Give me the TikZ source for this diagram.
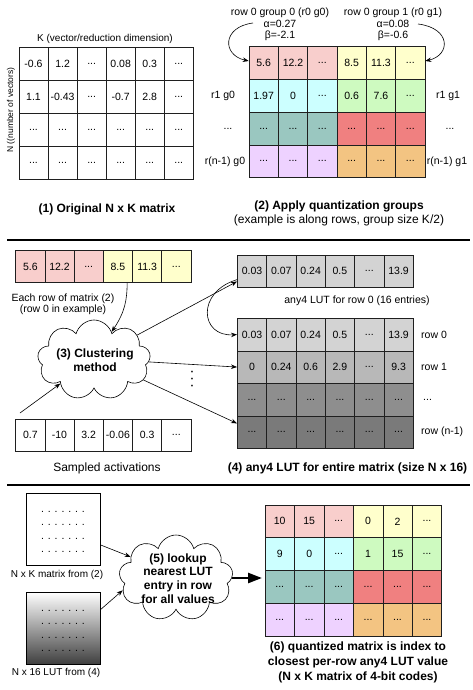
\documentclass[tikz,border=0pt]{standalone}
\usepackage{fontspec}
\setmainfont{Liberation Sans}
\usetikzlibrary{shapes.symbols,arrows.meta,calc}

\definecolor{cpink}{RGB}{248,206,204}
\definecolor{cyel}{RGB}{255,255,204}
\definecolor{ccyan}{RGB}{204,255,255}
\definecolor{cgreen}{RGB}{206,250,192}
\definecolor{cteal}{RGB}{154,199,192}
\definecolor{cred}{RGB}{240,128,128}
\definecolor{clav}{RGB}{238,210,255}
\definecolor{corange}{RGB}{243,196,130}
\definecolor{gA}{RGB}{211,211,211}
\definecolor{gB}{RGB}{184,184,184}
\definecolor{gC}{RGB}{142,142,142}
\definecolor{gD}{RGB}{122,122,122}

\newcommand{\threedots}{...}
% prefix, row, x0, yc, w, h, colA, colB, values
\newcommand{\cellrow}[9]{%
  \foreach \t [count=\c] in {#9} {%
    \pgfmathsetmacro\cx{#3+(\c-0.5)*#5}%
    \ifnum\c<4 \def\fc{#7}\else\def\fc{#8}\fi
    \node[cellbox, minimum width=#5pt, minimum height=#6pt, fill=\fc] (#1-#2-\c) at (\cx,#4) {\t};
  }}

\tikzset{
  cellbox/.style={draw=black!88, line width=0.6pt, inner sep=0pt, anchor=center,
    font=\fontsize{10.5}{12}\selectfont},
  labtext/.style={font=\fontsize{10.5}{11.5}\selectfont, inner sep=0pt, align=center},
  captext/.style={font=\bfseries\fontsize{12}{14.7}\selectfont, inner sep=0pt, align=center},
  arr/.style={-{Stealth[length=6pt,width=4.5pt]}, line width=0.6pt},
  puff/.style={cloud, cloud puffs=9, cloud ignores aspect, draw, line width=0.6pt, fill=white, inner sep=0pt},
  sqbox/.style={draw, line width=0.6pt, minimum width=74pt, minimum height=72pt, inner sep=0pt},
  dotrows/.style={font=\fontsize{10.5}{13.5}\selectfont, inner sep=0pt, align=center},
}

\begin{document}
\begin{tikzpicture}[x=1pt,y=-1pt]
\useasboundingbox (0,0) rectangle (473,690);

% ---------- (1) original matrix ----------
\node[labtext, font=\fontsize{10}{12}\selectfont] (ktitle) at (105,39) {K (vector/reduction dimension)};
\node[labtext, font=\fontsize{8.5}{10}\selectfont, rotate=90] (nlab) at (11,110) {N ((number of vectors)};
\cellrow{MA}{1}{19}{64.1}{29.05}{32.8}{white}{white}{-0.6,1.2,\threedots,0.08,0.3,\threedots}
\cellrow{MA}{2}{19}{96.9}{29.05}{32.8}{white}{white}{1.1,-0.43,\threedots,-0.7,2.8,\threedots}
\cellrow{MA}{3}{19}{129.7}{29.05}{32.8}{white}{white}{\threedots,\threedots,\threedots,\threedots,\threedots,\threedots}
\cellrow{MA}{4}{19}{162.5}{29.05}{32.8}{white}{white}{\threedots,\threedots,\threedots,\threedots,\threedots,\threedots}
\node[captext] (cap1) at (107,209) {(1) Original N x K matrix};

% ---------- (2) quantization groups ----------
\node[labtext] (g0lab) at (280,24.5) {row 0 group 0 (r0 g0)\\α=0.27\\β=-2.1};
\node[labtext] (g1lab) at (393,24.5) {row 0 group 1 (r0 g1)\\α=0.08\\β=-0.6};
\cellrow{MB}{1}{249}{63.1}{29.33}{32.75}{cpink}{cyel}{5.6,12.2,\threedots,8.5,11.3,\threedots}
\cellrow{MB}{2}{249}{95.8}{29.33}{32.75}{ccyan}{cgreen}{1.97,0,\threedots,0.6,7.6,\threedots}
\cellrow{MB}{3}{249}{128.6}{29.33}{32.75}{cteal}{cred}{\threedots,\threedots,\threedots,\threedots,\threedots,\threedots}
\cellrow{MB}{4}{249}{161.3}{29.33}{32.75}{clav}{corange}{\threedots,\threedots,\threedots,\threedots,\threedots,\threedots}
\node[labtext] (gl1) at (223,95.8) {r1 g0};
\node[labtext] (gl2) at (228,128.6) {...};
\node[labtext] (gl3) at (225,161.3) {r(n-1) g0};
\node[labtext] (gr1) at (448,95.8) {r1 g1};
\node[labtext] (gr2) at (450,128.6) {...};
\node[labtext] (gr3) at (447,161.3) {r(n-1) g1};
\coordinate (g0start) at (253,23);
\coordinate (g1start) at (418,24);
\draw[arr] (g0start) .. controls (222,27) and (222,55) .. (MB-1-1.172);
\draw[arr] (g1start) .. controls (451,28) and (451,55) .. (MB-1-6.8);
\node[captext] (cap2) at (339,206) {(2) Apply quantization groups};
\node[labtext, font=\fontsize{12}{14}\selectfont] (cap2b) at (339,220) {(example is along rows, group size K/2)};

\draw[line width=2pt] (7,240) -- (470,240);

% ---------- (3) clustering ----------
\cellrow{RV}{1}{15.7}{266.5}{29.2}{31.6}{cpink}{cyel}{5.6,12.2,\threedots,8.5,11.3,\threedots}
\node[labtext] (eachrow) at (63,304.5) {Each row of matrix (2)\\(row 0 in example)};
\node[puff, minimum width=113pt, minimum height=80pt] (cl3) at (94,360) {};
\node[captext, font=\bfseries\fontsize{12}{14}\selectfont] (cl3t) at (95,360) {(3) Clustering\\method};
\cellrow{AV}{1}{15.7}{435}{29.2}{32}{white}{white}{0.7,-10,3.2,-0.06,0.3,\threedots}
\node[labtext, font=\fontsize{12}{14}\selectfont] (samp) at (107,468) {Sampled activations};
\coordinate (actstart) at (20,413);

\cellrow{TL}{1}{237.3}{271}{29.33}{32}{gA}{gA}{0.03,0.07,0.24,0.5,\threedots,13.9}
\node[labtext] (lut0lab) at (357,300.7) {any4 LUT for row 0 (16 entries)};
\cellrow{BL}{1}{237.3}{334.55}{29.33}{32.5}{gA}{gA}{0.03,0.07,0.24,0.5,\threedots,13.9}
\cellrow{BL}{2}{237.3}{367.05}{29.33}{32.5}{gB}{gB}{0,0.24,0.6,2.9,\threedots,9.3}
\cellrow{BL}{3}{237.3}{399.55}{29.33}{32.5}{gC}{gC}{\threedots,\threedots,\threedots,\threedots,\threedots,\threedots}
\cellrow{BL}{4}{237.3}{432.05}{29.33}{32.5}{gD}{gD}{\threedots,\threedots,\threedots,\threedots,\threedots,\threedots}
\node[labtext, anchor=west] (bl1) at (421,334.5) {row 0};
\node[labtext, anchor=west] (bl2) at (421,367) {row 1};
\node[labtext, anchor=west] (bl3) at (423,399.5) {...};
\node[labtext, anchor=west] (bl4) at (421,432) {row (n-1)};
\node[inner sep=0pt, rotate=90, font=\bfseries\fontsize{10.5}{12}\selectfont] (vd) at (192,379) {. . .};

\draw[arr] (RV-1-4.-60) .. controls (127,300) and (125,312) .. (cl3.58);
\draw[arr] (actstart) -- (cl3.215);
\draw[arr] (cl3.30) -- (TL-1-1.215);
\draw[arr] (cl3.-2) -- (BL-2-1.west);
\draw[arr] (cl3.-22) -- (BL-4-1.150);
\draw[arr] (TL-1-1.210) .. controls (196,292) and (200,337) .. (BL-1-1.west);

\node[captext] (cap4) at (347.5,468) {(4) any4 LUT for entire matrix (size N x 16)};

\draw[line width=2pt] (7,485) -- (470,485);

% ---------- (5) lookup ----------
\node[sqbox] (S1) at (63,529) {};
\node[dotrows] (S1d) at (63,532) {. . . . . . .\\. . . . . . .\\. . . . . . .\\. . . . . . .};
\node[labtext, font=\fontsize{10}{12}\selectfont] (S1lab) at (57,575) {N x K matrix from (2)};
\node[sqbox, top color=white, bottom color=black!75] (S2) at (63,628) {};
\node[dotrows] (S2d) at (63,631) {. . . . . . .\\. . . . . . .\\. . . . . . .\\. . . . . . .};
\node[labtext, font=\fontsize{10}{12}\selectfont] (S2lab) at (56,673) {N x 16 LUT from (4)};

\node[puff, minimum width=114pt, minimum height=86pt] (cl5) at (176,578) {};
\node[captext, font=\bfseries\fontsize{12}{13.7}\selectfont] (cl5t) at (178,578.5) {(5) lookup\\nearest LUT\\entry in row\\for all values};
\draw[arr] (S1.-23) -- (cl5.155);
\draw[arr] (S2.26) -- (cl5.193);

% ---------- (6) quantized matrix ----------
\cellrow{MC}{1}{265}{521.35}{29.45}{32.7}{cpink}{cyel}{10,15,\threedots,0,2,\threedots}
\cellrow{MC}{2}{265}{554.05}{29.45}{32.7}{ccyan}{cgreen}{9,0,\threedots,1,15,\threedots}
\cellrow{MC}{3}{265}{586.75}{29.45}{32.7}{cteal}{cred}{\threedots,\threedots,\threedots,\threedots,\threedots,\threedots}
\cellrow{MC}{4}{265}{619.45}{29.45}{32.7}{clav}{corange}{\threedots,\threedots,\threedots,\threedots,\threedots,\threedots}
\coordinate (m6in) at (262,0);
\draw[line width=2.5pt, -{Triangle[length=14pt,width=10pt]}] (cl5.east) -- (cl5.east -| m6in);
\node[captext] (cap6) at (358,662.3) {(6) quantized matrix is index to\\closest per-row any4 LUT value\\(N x K matrix of 4-bit codes)};

\end{tikzpicture}
\end{document}
